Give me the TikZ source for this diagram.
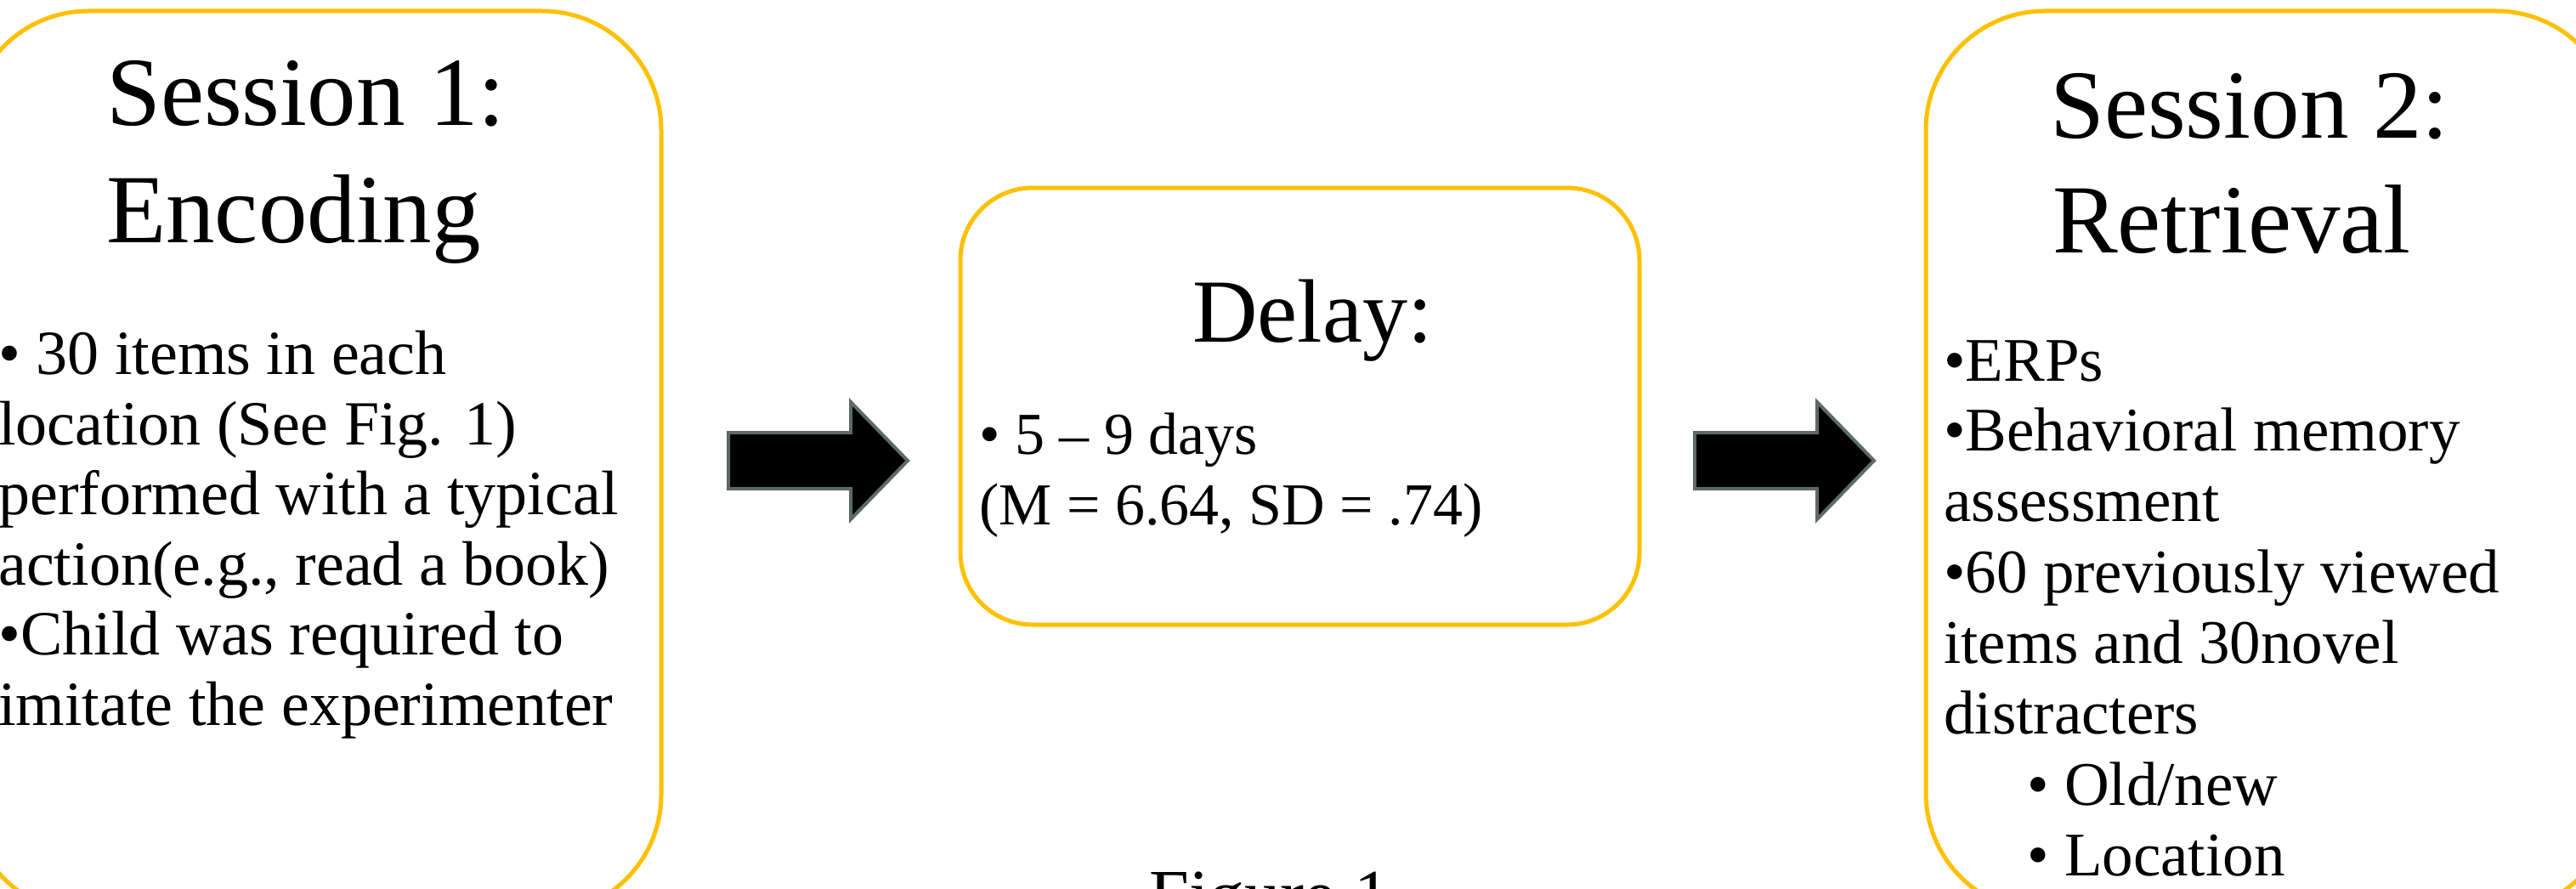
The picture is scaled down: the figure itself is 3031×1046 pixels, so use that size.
\documentclass[tikz,border=0pt]{standalone}
\usepackage{fontspec}
\setmainfont{Liberation Serif}
\definecolor{boxgold}{HTML}{FFC000}
\definecolor{arrowgray}{HTML}{5E6A64}
\begin{document}
\begin{tikzpicture}[x=1pt,y=-1pt,
  panel/.style={draw=boxgold, line width=5pt, inner sep=0pt, outer sep=0pt},
  titletext/.style={anchor=base west, inner sep=0pt, font=\fontsize{115}{137}\selectfont},
  bodytext/.style={anchor=base west, inner sep=0pt, font=\fontsize{73}{83}\selectfont},
  blockarrow/.style={fill=black, draw=arrowgray, line width=4pt}]
\useasboundingbox (0,0) rectangle (3031,1046);
\fill[white] (0,0) rectangle (3031,1046);

% boxes
\node[panel, rounded corners=140pt, minimum width=814pt, minimum height=1062pt] (enc) at (371,544) {};
\node[panel, rounded corners=85pt, minimum width=799pt, minimum height=514pt] (delay) at (1529.5,478) {};
\node[panel, rounded corners=140pt, minimum width=811pt, minimum height=1060pt] (ret) at (2671.5,543) {};

% left box text
\node[titletext] (t1a) at (125,148) {Session 1:};
\node[titletext] (t1b) at (125,285) {Encoding};
\node[bodytext, font=\fontsize{74}{83}\selectfont] (e1) at (-2,440) {• 30 items in each};
\node[bodytext, font=\fontsize{74}{83}\selectfont] (e2) at (-2,523) {location (See Fig. 1)};
\node[bodytext, font=\fontsize{74}{83}\selectfont] (e3) at (-2,605) {performed with a typical};
\node[bodytext, font=\fontsize{74}{83}\selectfont] (e4) at (-2,688) {action(e.g., read a book)};
\node[bodytext, font=\fontsize{74}{83}\selectfont] (e5) at (-2,770) {•Child was required to};
\node[bodytext, font=\fontsize{74}{83}\selectfont] (e6) at (-2,853) {imitate the experimenter};

% middle box text
\node[anchor=base west, inner sep=0pt, font=\fontsize{106}{120}\selectfont] (td) at (1403,402) {Delay:};
\node[bodytext, font=\fontsize{70}{83}\selectfont] (d1) at (1152,534) {• 5 – 9 days};
\node[bodytext, font=\fontsize{70}{83}\selectfont] (d2) at (1152,617) {(M = 6.64, SD = .74)};

% right box text
\node[titletext] (t2a) at (2412,163) {Session 2:};
\node[titletext] (t2b) at (2415,297) {Retrieval};
\node[bodytext] (r1) at (2287,448) {•ERPs};
\node[bodytext] (r2) at (2287,530) {•Behavioral memory};
\node[bodytext] (r3) at (2287,613) {assessment};
\node[bodytext] (r4) at (2287,697) {•60 previously viewed};
\node[bodytext] (r5) at (2287,780) {items and 30novel};
\node[bodytext] (r6) at (2287,863) {distracters};
\node[bodytext] (r7) at (2385,947) {• Old/new};
\node[bodytext] (r8) at (2385,1030) {• Location};

% caption (cut off at bottom)
\node[anchor=base, inner sep=0pt, font=\fontsize{84}{100}\selectfont] (cap) at (1494,1081) {Figure 1};

% block arrows
\coordinate (a1) at (857,542);
\coordinate (a2) at (1994,542);
\draw[blockarrow] (a1) ++(0,-33) -- ++(144,0) -- ++(0,-36) -- ++(67,69) -- ++(-67,69) -- ++(0,-36) -- ++(-144,0) -- cycle;
\draw[blockarrow] (a2) ++(0,-33) -- ++(144,0) -- ++(0,-36) -- ++(67,69) -- ++(-67,69) -- ++(0,-36) -- ++(-144,0) -- cycle;
\end{tikzpicture}
\end{document}
